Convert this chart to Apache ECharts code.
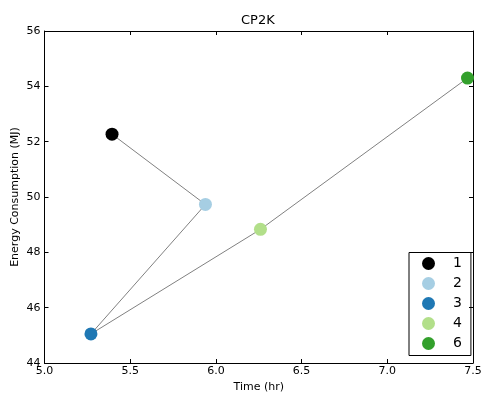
<!DOCTYPE html>
<html><head><meta charset="utf-8">
<script src="https://cdn.jsdelivr.net/npm/echarts@6/dist/echarts.min.js"></script>
<style>html,body{margin:0;padding:0;background:#fff}#c{width:482px;height:394px}</style>
</head><body><div id="c"></div>
<script>
const names = ['1', '2', '3', '4', '6'];
const timeHr = [5.394, 5.939, 5.271, 6.260, 7.468];
const energyMJ = [52.27, 49.73, 45.05, 48.83, 54.30];
const colors = ['#000000', '#a6cee3', '#1f78b4', '#b2df8a', '#33a02c'];
const xTicks = [5.0, 5.5, 6.0, 6.5, 7.0, 7.5];
const yTicks = [44, 46, 48, 50, 52, 54, 56];

const font = 'DejaVu Sans';
const chart = echarts.init(document.getElementById('c'), null, {renderer: 'canvas'});
const axisCommon = {
  axisLine: {show: true, lineStyle: {color: '#000', width: 1}},
  axisTick: {show: true, inside: true, length: 4, lineStyle: {color: '#000'}},
  splitLine: {show: false}
};
const series = [{
  type: 'line',
  data: timeHr.map((x, i) => [x, energyMJ[i]]),
  symbol: 'none',
  lineStyle: {color: '#808080', width: 1},
  z: 1, silent: true
}];
names.forEach((n, i) => {
  series.push({
    type: 'scatter', name: n,
    data: [[timeHr[i], energyMJ[i]]],
    symbolSize: 13,
    itemStyle: {color: colors[i], opacity: 1},
    z: 3
  });
});
chart.setOption({
  animation: false,
  textStyle: {fontFamily: font},
  title: {text: 'CP2K', left: 241, top: 14, textStyle: {fontFamily: font, fontSize: 13, fontWeight: 'normal', color: '#000'}, padding: 0},
  grid: {left: 44.5, right: 9, top: 31, bottom: 31, containLabel: false, outerBoundsMode: 'none'},
  legend: {
    data: names, orient: 'vertical', left: 409, top: 252.5,
    itemWidth: 13, itemHeight: 13, itemGap: 6, icon: 'circle',
    borderColor: '#000', borderWidth: 1, borderRadius: 0,
    padding: [4, 9, 5, 13],
    textStyle: {fontFamily: font, fontSize: 14, color: '#000', padding: [0, 0, 0, 13]}
  },
  xAxis: [Object.assign({
    type: 'value', min: 5.0, max: 7.5, interval: 0.5,
    name: 'Time (hr)', nameLocation: 'middle', nameGap: 19, nameMoveOverlap: false,
    nameTextStyle: {fontFamily: font, fontSize: 11, color: '#000'},
    axisLabel: {fontFamily: font, fontSize: 11, color: '#000', margin: 3, formatter: v => v.toFixed(1)}
  }, axisCommon), Object.assign({
    type: 'value', min: 5.0, max: 7.5, interval: 0.5, position: 'top',
    axisLabel: {show: false}
  }, axisCommon)],
  yAxis: [Object.assign({
    type: 'value', min: 44, max: 56, interval: 2,
    name: 'Energy Consumption (MJ)', nameLocation: 'middle', nameGap: 24, nameMoveOverlap: false,
    nameTextStyle: {fontFamily: font, fontSize: 11, color: '#000'},
    axisLabel: {fontFamily: font, fontSize: 11, color: '#000', margin: 4}
  }, axisCommon), Object.assign({
    type: 'value', min: 44, max: 56, interval: 2, position: 'right',
    axisLabel: {show: false}
  }, axisCommon)],
  series: series
});
</script></body></html>
